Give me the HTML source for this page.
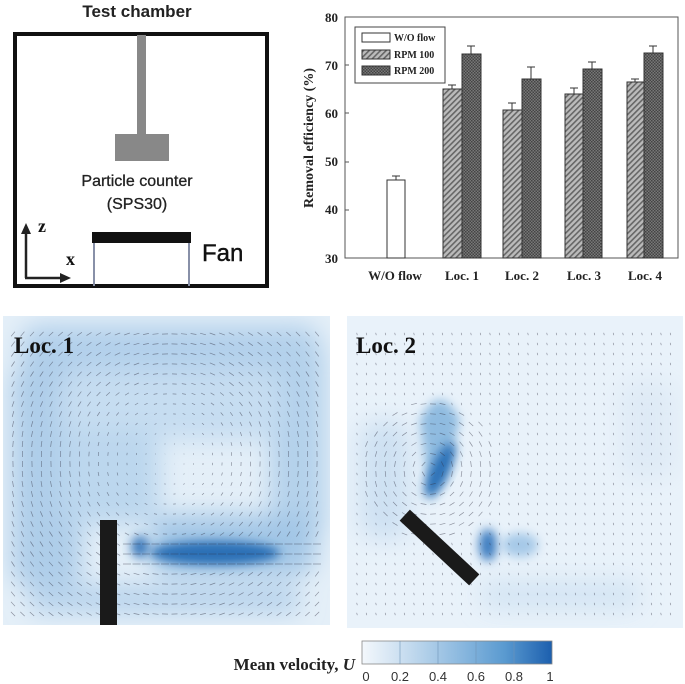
<!DOCTYPE html>
<html><head><style>
body{margin:0;background:#fff;width:685px;height:684px;overflow:hidden;font-family:"Liberation Sans",sans-serif}
svg{position:absolute;left:0;top:0}
</style></head><body>
<svg id="s" width="685" height="684" viewBox="0 0 685 684">
<defs>
<pattern id="hatch" width="4" height="4" patternUnits="userSpaceOnUse" patternTransform="rotate(45)"><rect width="4" height="4" fill="#bbb"/><rect width="1.6" height="4" fill="#666"/></pattern>
<pattern id="cross" width="3" height="3" patternUnits="userSpaceOnUse"><rect width="3" height="3" fill="#777"/><rect width="1.5" height="1.5" fill="#444"/><rect x="1.5" y="1.5" width="1.5" height="1.5" fill="#444"/></pattern>
<filter id="bl" x="-50%" y="-50%" width="200%" height="200%"><feGaussianBlur stdDeviation="12"/></filter>
<filter id="bl2" x="-50%" y="-50%" width="200%" height="200%"><feGaussianBlur stdDeviation="5"/></filter>
<clipPath id="c1"><rect x="3" y="316" width="327" height="309"/></clipPath>
<clipPath id="c2"><rect x="347" y="316" width="336" height="312"/></clipPath>
<linearGradient id="cb"><stop offset="0" stop-color="#f4f8fc"/><stop offset="0.25" stop-color="#c3daee"/><stop offset="0.5" stop-color="#8fbbe0"/><stop offset="0.75" stop-color="#5a9ad0"/><stop offset="1" stop-color="#1c5fae"/></linearGradient>
</defs>

<!-- Test chamber -->
<text x="137" y="17" font-size="17" font-weight="bold" text-anchor="middle" fill="#222">Test chamber</text>
<rect x="15" y="34" width="252" height="252" fill="none" stroke="#111" stroke-width="4"/>
<rect x="137" y="35" width="9" height="100" fill="#888"/>
<rect x="115" y="134" width="54" height="27" fill="#888"/>
<text x="137" y="186" font-size="16" text-anchor="middle" fill="#222" stroke="#222" stroke-width="0.3">Particle counter</text>
<text x="137" y="209" font-size="16" text-anchor="middle" fill="#222" stroke="#222" stroke-width="0.3">(SPS30)</text>
<rect x="92" y="232" width="99" height="11" fill="#111"/>
<line x1="94" y1="243" x2="94" y2="286" stroke="#8890a8" stroke-width="2"/>
<line x1="189" y1="243" x2="189" y2="286" stroke="#8890a8" stroke-width="2"/>
<text x="202" y="261" font-size="24" fill="#111" stroke="#111" stroke-width="0.4">Fan</text>
<line x1="26" y1="278" x2="26" y2="232" stroke="#222" stroke-width="2.5"/>
<path d="M21,234 L26,223 L31,234Z" fill="#222"/>
<line x1="25" y1="278" x2="62" y2="278" stroke="#222" stroke-width="2.5"/>
<path d="M60,273 L71,278 L60,283Z" fill="#222"/>
<text x="38" y="232" font-size="18" font-weight="bold" font-family="Liberation Serif,serif" fill="#111">z</text>
<text x="66" y="265" font-size="18" font-weight="bold" font-family="Liberation Serif,serif" fill="#111">x</text>

<!-- Bar chart -->
<g font-family="Liberation Serif,serif" font-weight="bold" fill="#222">
<rect x="345" y="17" width="333" height="241" fill="#fff" stroke="#555" stroke-width="1"/>
<g font-size="13" text-anchor="end">
<text x="338" y="22">80</text><text x="338" y="70">70</text><text x="338" y="118">60</text>
<text x="338" y="166">50</text><text x="338" y="214">40</text><text x="338" y="263">30</text>
</g>
<g stroke="#555"><line x1="345" y1="65" x2="349" y2="65"/><line x1="345" y1="113" x2="349" y2="113"/><line x1="345" y1="162" x2="349" y2="162"/><line x1="345" y1="210" x2="349" y2="210"/></g>
<text transform="translate(313,138) rotate(-90)" font-size="14" text-anchor="middle">Removal efficiency (%)</text>
<g font-size="13" text-anchor="middle">
<text x="395" y="280">W/O flow</text><text x="462" y="280">Loc. 1</text><text x="522" y="280">Loc. 2</text><text x="584" y="280">Loc. 3</text><text x="645" y="280">Loc. 4</text>
</g>
<g stroke="#333" stroke-width="1">
<rect x="387" y="180" width="18" height="78" fill="#fff"/>
<rect x="443" y="89" width="19" height="169" fill="url(#hatch)"/>
<rect x="462" y="54" width="19" height="204" fill="url(#cross)"/>
<rect x="503" y="110" width="19" height="148" fill="url(#hatch)"/>
<rect x="522" y="79" width="19" height="179" fill="url(#cross)"/>
<rect x="565" y="94" width="18" height="164" fill="url(#hatch)"/>
<rect x="583" y="69" width="19" height="189" fill="url(#cross)"/>
<rect x="627" y="82" width="17" height="176" fill="url(#hatch)"/>
<rect x="644" y="53" width="19" height="205" fill="url(#cross)"/>
<path d="M396,180V176M392,176H400 M452,89V85M448,85H456 M471,54V46M467,46H475 M512,110V103M508,103H516 M531,79V67M527,67H535 M574,94V88M570,88H578 M592,69V62M588,62H596 M635,82V79M631,79H639 M653,53V46M649,46H657" fill="none"/>
</g>
<rect x="355" y="27" width="90" height="56" fill="#fff" stroke="#444"/>
<g stroke="#333"><rect x="362" y="33" width="28" height="9" fill="#fff"/><rect x="362" y="50" width="28" height="9" fill="url(#hatch)"/><rect x="362" y="66" width="28" height="9" fill="url(#cross)"/></g>
<g font-size="10"><text x="394" y="41">W/O flow</text><text x="394" y="58">RPM 100</text><text x="394" y="74">RPM 200</text></g>
</g>

<!-- Flow panel 1 -->
<g clip-path="url(#c1)">
<rect x="3" y="316" width="327" height="309" fill="#e4eff8"/>
<g filter="url(#bl)">
<rect x="20" y="325" width="300" height="45" rx="20" fill="#b2d0eb"/>
<rect x="12" y="360" width="70" height="230" rx="25" fill="#aecde9"/>
<rect x="270" y="340" width="55" height="200" rx="20" fill="#b4d1eb"/>
<rect x="60" y="370" width="220" height="70" rx="20" fill="#c6ddf1"/>
<rect x="60" y="430" width="100" height="95" rx="20" fill="#bcd7ee"/>
<rect x="150" y="515" width="165" height="60" rx="20" fill="#a2c6e6"/>
<rect x="30" y="585" width="270" height="28" rx="10" fill="#b7d3ec"/>
</g>
<ellipse cx="215" cy="553" rx="65" ry="12" fill="#2c6fb6" filter="url(#bl2)"/>
<ellipse cx="140" cy="547" rx="9" ry="11" fill="#2f70b6" filter="url(#bl2)" opacity="0.9"/>
<g id="ar1" stroke="#334" stroke-width="0.7" opacity="0.5"></g>
<rect x="100" y="520" width="17" height="105" fill="#1a1a1a"/>
</g>
<text x="14" y="353" font-size="23" font-weight="bold" font-family="Liberation Serif,serif" fill="#111">Loc. 1</text>

<!-- Flow panel 2 -->
<g clip-path="url(#c2)">
<rect x="347" y="316" width="336" height="312" fill="#e9f2fa"/>
<g filter="url(#bl)" opacity="0.85">
<rect x="360" y="420" width="50" height="120" rx="20" fill="#c9def1"/>
<rect x="480" y="580" width="160" height="30" rx="12" fill="#d0e3f3"/>
<rect x="620" y="380" width="55" height="100" rx="20" fill="#dde9f5"/>
</g>
<path d="M420,420 Q440,380 460,420 L445,480 L430,500 Z" fill="#8fbbe0" filter="url(#bl2)"/>
<ellipse cx="440" cy="470" rx="9" ry="30" transform="rotate(25 440 470)" fill="#2c6fb6" filter="url(#bl2)"/>
<ellipse cx="488" cy="545" rx="9" ry="16" fill="#3c7dc0" filter="url(#bl2)"/>
<ellipse cx="520" cy="545" rx="18" ry="12" fill="#a6c9e8" filter="url(#bl2)"/>
<g id="ar2" stroke="#334" stroke-width="0.7" opacity="0.5"></g>
<rect x="392" y="540" width="95" height="15" fill="#1a1a1a" transform="rotate(43 439.5 547.5)"/>
</g>
<text x="356" y="353" font-size="23" font-weight="bold" font-family="Liberation Serif,serif" fill="#111">Loc. 2</text>

<!-- Colorbar -->
<text x="355" y="670" font-size="17" font-weight="bold" font-family="Liberation Serif,serif" text-anchor="end" fill="#222">Mean velocity, <tspan font-style="italic">U</tspan></text>
<rect x="362" y="641" width="190" height="23" fill="url(#cb)" stroke="#888" stroke-width="0.8"/>
<g stroke="#6f94b8" stroke-width="0.6"><line x1="400" y1="641" x2="400" y2="664"/><line x1="438" y1="641" x2="438" y2="664"/><line x1="476" y1="641" x2="476" y2="664"/><line x1="514" y1="641" x2="514" y2="664"/></g>
<g font-size="13" fill="#333" text-anchor="middle">
<text x="366" y="681">0</text><text x="400" y="681">0.2</text><text x="438" y="681">0.4</text><text x="476" y="681">0.6</text><text x="514" y="681">0.8</text><text x="550" y="681">1</text>
</g>
</svg>
<script>
function field(id,x0,y0,w,h,fn){
 var g=document.getElementById(id),s='';
 for(var y=y0+18;y<y0+h-8;y+=10)for(var x=x0+10;x<x0+w-6;x+=9.5){
  var v=fn(x,y);var dx=v[0],dy=v[1];
  s+='<line x1="'+(x-dx).toFixed(1)+'" y1="'+(y-dy).toFixed(1)+'" x2="'+(x+dx).toFixed(1)+'" y2="'+(y+dy).toFixed(1)+'"/>';
 }
 g.innerHTML=s;
}
field('ar1',3,316,327,309,function(x,y){
 var cx=170,cy=460,ax=x-cx,ay=y-cy,r=Math.sqrt(ax*ax+ay*ay)+1;
 var l=Math.min(3,r/35);
 if(y>535&&y<565&&x>120)return[4,0];
 return[-ay/r*l,ax/r*l];
});
field('ar2',347,316,336,312,function(x,y){
 var cx=430,cy=470,ax=x-cx,ay=y-cy,r=Math.sqrt(ax*ax+ay*ay)+1;
 if(r<70){var l=3;return[ay/r*l,-ax/r*l];}
 return[0.3,1.2];
});
</script>
</body></html>
